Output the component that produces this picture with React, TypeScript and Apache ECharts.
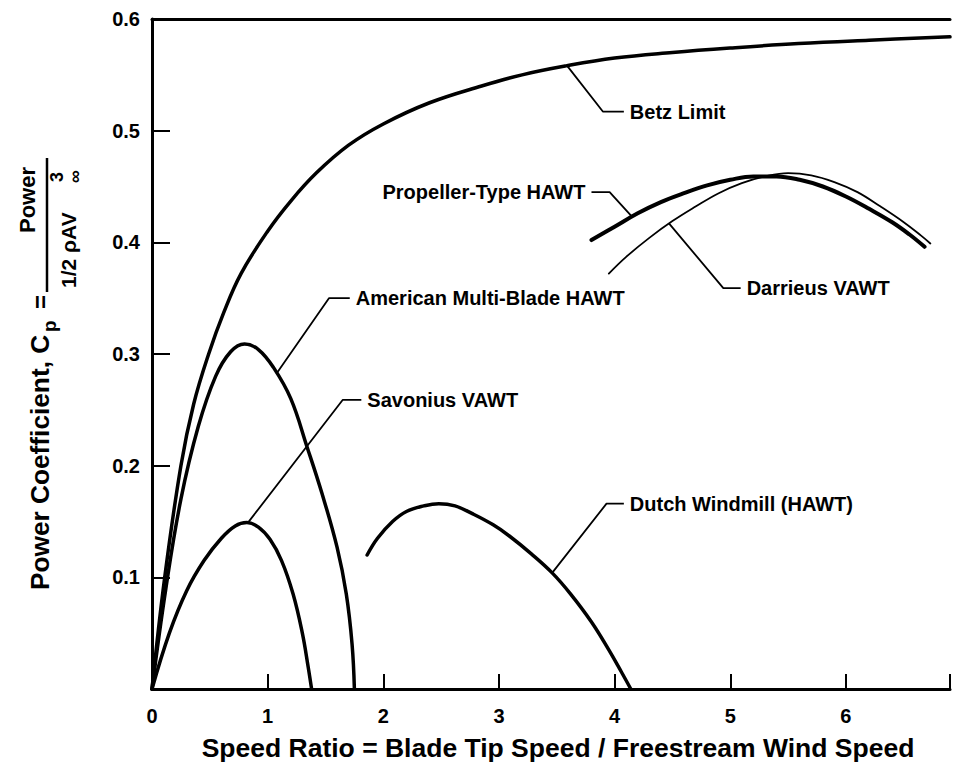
import React, { useEffect, useRef } from "react";
import * as echarts from "echarts";

const FONT = '"Liberation Sans", Arial, Helvetica, sans-serif';

// ---- data (speed ratio, power coefficient) ----
const betzLimit: [number, number][] = [
  [0, 0], [0.11, 0.1], [0.25, 0.2], [0.36, 0.255], [0.49, 0.3], [0.62, 0.337],
  [0.77, 0.372], [1.0, 0.41], [1.2, 0.437], [1.42, 0.462], [1.7, 0.487],
  [2.0, 0.506], [2.4, 0.525], [2.85, 0.54], [3.2, 0.55], [3.58, 0.558],
  [4.0, 0.565], [4.5, 0.57], [5.0, 0.574], [5.59, 0.578], [6.2, 0.581], [6.9, 0.584],
];
const americanMultiBlade: [number, number][] = [
  [0, 0], [0.12, 0.09], [0.25, 0.17], [0.4, 0.235], [0.55, 0.28], [0.68, 0.302],
  [0.8, 0.309], [0.92, 0.304], [1.05, 0.288], [1.2, 0.26], [1.34, 0.217],
  [1.47, 0.175], [1.6, 0.127], [1.68, 0.085], [1.73, 0.04], [1.75, 0],
];
const savonius: [number, number][] = [
  [0, 0], [0.15, 0.05], [0.3, 0.088], [0.45, 0.115], [0.6, 0.135], [0.72, 0.146],
  [0.82, 0.149], [0.92, 0.145], [1.02, 0.134], [1.12, 0.115], [1.22, 0.085],
  [1.3, 0.05], [1.35, 0.02], [1.38, 0],
];
const dutchWindmill: [number, number][] = [
  [1.86, 0.12], [1.95, 0.135], [2.08, 0.15], [2.2, 0.159], [2.35, 0.164],
  [2.48, 0.166], [2.62, 0.164], [2.77, 0.157], [2.95, 0.147], [3.09, 0.137],
  [3.28, 0.121], [3.46, 0.104], [3.62, 0.085], [3.8, 0.06], [3.95, 0.035],
  [4.06, 0.015], [4.14, 0],
];
const propellerHawt: [number, number][] = [
  [3.8, 0.402], [4.0, 0.414], [4.2, 0.426], [4.4, 0.436], [4.6, 0.444],
  [4.8, 0.451], [5.0, 0.456], [5.2, 0.459], [5.4, 0.459], [5.6, 0.456],
  [5.8, 0.45], [6.0, 0.441], [6.2, 0.43], [6.4, 0.418], [6.55, 0.407], [6.68, 0.396],
];
const darrieusVawt: [number, number][] = [
  [3.95, 0.372], [4.1, 0.387], [4.3, 0.404], [4.5, 0.419], [4.7, 0.432],
  [4.9, 0.444], [5.1, 0.453], [5.3, 0.459], [5.5, 0.462], [5.7, 0.46],
  [5.9, 0.454], [6.1, 0.445], [6.3, 0.432], [6.5, 0.418], [6.65, 0.406], [6.73, 0.399],
];

// ---- callout leader lines (data coords) and their labels ----
const betzLeader: [number, number][] = [[3.59, 0.558], [3.9, 0.517], [4.08, 0.517]];
const propellerLeader: [number, number][] = [[3.8, 0.445], [3.957, 0.445], [4.15, 0.423]];
const darrieusLeader: [number, number][] = [[4.47, 0.417], [4.94, 0.359], [5.09, 0.359]];
const americanLeader: [number, number][] = [[1.08, 0.283], [1.53, 0.35], [1.71, 0.35]];
const savoniusLeader: [number, number][] = [[0.83, 0.149], [1.65, 0.259], [1.81, 0.259]];
const dutchLeader: [number, number][] = [[3.46, 0.104], [3.93, 0.166], [4.08, 0.166]];

const calloutLabels = [
  "Betz Limit",
  "Propeller-Type HAWT",
  "Darrieus VAWT",
  "American Multi-Blade HAWT",
  "Savonius VAWT",
  "Dutch Windmill (HAWT)",
];

const xAxisTitle = "Speed Ratio = Blade Tip Speed / Freestream Wind Speed";
const xMin = 0;
const xMax = 6.9;
const yMin = 0;
const yMax = 0.6;

function curve(name: string, data: [number, number][], width: number) {
  return {
    name,
    type: "line",
    data,
    smooth: 0.4,
    symbol: "none",
    silent: true,
    lineStyle: { color: "#000", width, cap: "round", join: "round" },
    z: 3,
  };
}

function leader(name: string, pts: [number, number][], side: "left" | "right") {
  const idx = side === "right" ? pts.length - 1 : 0;
  const data: any[] = pts.map((p) => ({ value: p }));
  data[idx] = {
    value: pts[idx],
    label: {
      show: true,
      formatter: name,
      position: side,
      distance: 6,
      color: "#000",
      fontFamily: FONT,
      fontWeight: "bold",
      fontSize: 20,
    },
  };
  return {
    name: name + " leader",
    type: "line",
    data,
    smooth: false,
    symbol: "circle",
    symbolSize: 0,
    showSymbol: true,
    silent: true,
    itemStyle: { color: "#000" },
    lineStyle: { color: "#000", width: 1.8 },
    z: 2,
  };
}

export default function App() {
  const ref = useRef<HTMLDivElement>(null);

  useEffect(() => {
    if (!ref.current) return;
    const chart = echarts.init(ref.current, null, { renderer: "svg" });
    const txt = (extra: any) => ({
      fill: "#000",
      fontFamily: FONT,
      fontWeight: "bold",
      align: "left",
      verticalAlign: "middle",
      textAlign: "left",
      textVerticalAlign: "middle",
      ...extra,
    });
    chart.setOption({
      animation: false,
      backgroundColor: "#fff",
      grid: { left: 152, top: 19, width: 801, height: 670 },
      xAxis: [
        {
          type: "value",
          min: xMin,
          max: xMax,
          interval: 1,
          position: "bottom",
          axisLine: { show: true, onZero: false, lineStyle: { color: "#000", width: 3 } },
          axisTick: { show: true, inside: true, length: 15, lineStyle: { color: "#000", width: 2 } },
          axisLabel: {
            color: "#000",
            fontFamily: FONT,
            fontWeight: "bold",
            fontSize: 20,
            margin: 17,
            formatter: (v: number) => (Number.isInteger(v) ? String(v) : ""),
          },
          splitLine: { show: false },
        },
        {
          type: "value",
          min: xMin,
          max: xMax,
          position: "top",
          axisLine: { show: true, onZero: false, lineStyle: { color: "#000", width: 3 } },
          axisTick: { show: false },
          axisLabel: { show: false },
          splitLine: { show: false },
        },
      ],
      yAxis: {
        type: "value",
        min: yMin,
        max: yMax,
        interval: 0.1,
        axisLine: { show: true, lineStyle: { color: "#000", width: 3 } },
        axisTick: { show: true, inside: true, length: 18, lineStyle: { color: "#000", width: 2 } },
        axisLabel: {
          color: "#000",
          fontFamily: FONT,
          fontWeight: "bold",
          fontSize: 20,
          margin: 12,
          formatter: (v: number) => (v === 0 ? "" : v.toFixed(1)),
        },
        splitLine: { show: false },
      },
      series: [
        curve("Betz Limit", betzLimit, 3.5),
        curve("American Multi-Blade HAWT", americanMultiBlade, 3.5),
        curve("Savonius VAWT", savonius, 3.5),
        curve("Dutch Windmill (HAWT)", dutchWindmill, 3.5),
        curve("Darrieus VAWT", darrieusVawt, 1.8),
        curve("Propeller-Type HAWT", propellerHawt, 4),
        leader(calloutLabels[0], betzLeader, "right"),
        leader(calloutLabels[1], propellerLeader, "left"),
        leader(calloutLabels[2], darrieusLeader, "right"),
        leader(calloutLabels[3], americanLeader, "right"),
        leader(calloutLabels[4], savoniusLeader, "right"),
        leader(calloutLabels[5], dutchLeader, "right"),
      ],
      graphic: [
        {
          type: "text",
          x: 558,
          y: 748,
          style: txt({ text: xAxisTitle, fontSize: 26.5, align: "center", textAlign: "center" }),
        },
        {
          type: "group",
          x: 40,
          y: 590,
          rotation: Math.PI / 2,
          children: [
            { type: "text", x: 0, y: 0, scaleX: 1.05, style: txt({ text: "Power Coefficient, C", fontSize: 25 }) },
            { type: "text", x: 258, y: 9, style: txt({ text: "p", fontSize: 19 }) },
            { type: "text", x: 281, y: 0, style: txt({ text: "=", fontSize: 24 }) },
            { type: "line", shape: { x1: 298, y1: 7, x2: 432, y2: 7 }, style: { stroke: "#000", lineWidth: 2.5 } },
            { type: "text", x: 390, y: -13, style: txt({ text: "Power", fontSize: 22, align: "center", textAlign: "center" }) },
            { type: "text", x: 302, y: 28, style: txt({ text: "1/2 \u03c1AV", fontSize: 21 }) },
            { type: "text", x: 408, y: 17, style: txt({ text: "3", fontSize: 18 }) },
            { type: "text", x: 407, y: 35, style: txt({ text: "\u221e", fontSize: 18 }) },
          ],
        },
      ],
    });
    return () => chart.dispose();
  }, []);

  return <div ref={ref} style={{ width: 953, height: 765, position: "absolute", left: 0, top: 0 }} />;
}
